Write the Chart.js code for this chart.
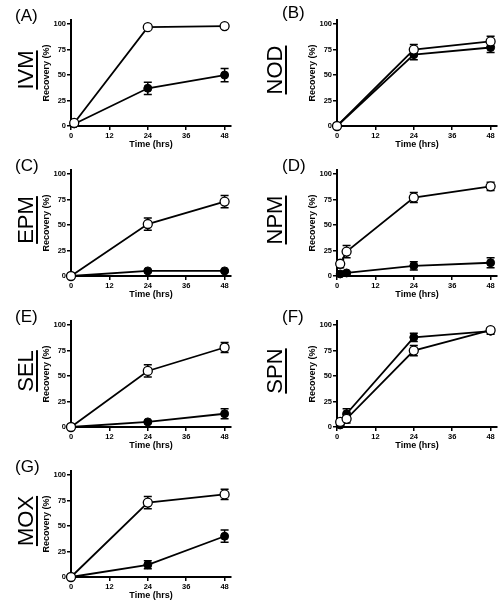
<!DOCTYPE html>
<html>
<head>
<meta charset="utf-8">
<script src="https://cdn.jsdelivr.net/npm/chart.js@4.4.1/dist/chart.umd.min.js"></script>
<style>
  body { margin: 0; background: #fff; }
  #wrap { position: relative; width: 503px; height: 609px; overflow: hidden; font-family: "Liberation Sans", Arial, sans-serif; }
  canvas { position: absolute; }
  .lbl { position: absolute; font-size: 17px; color: #000; line-height: 1; }
  .drug { position: absolute; font-size: 22px; color: #000; line-height: 1; text-decoration: underline; text-underline-offset: 3px; text-decoration-thickness: 1.5px; transform: translate(-50%, -50%) rotate(-90deg); white-space: nowrap; }
</style>
</head>
<body>
<div id="wrap"></div>
<script>
// tick labels
var xTicks = [0, 12, 24, 36, 48];
var yTicks = [0, 25, 50, 75, 100];

var panelLabels = ['(A)', '(B)', '(C)', '(D)', '(E)', '(F)', '(G)'];
var drugNames = ['IVM', 'NOD', 'EPM', 'NPM', 'SEL', 'SPN', 'MOX'];

// (A) IVM
var ivmTime = [1, 24, 48];
var ivmOpen = [3, 97, 98];
var ivmOpenErr = [1, 1, 1];
var ivmFilled = [2, 37, 50];
var ivmFilledErr = [0, 6, 6.5];

// (B) NOD
var nodTime = [0, 24, 48];
var nodOpen = [0, 75, 83];
var nodOpenErr = [0, 5, 5];
var nodFilled = [0, 70, 77];
var nodFilledErr = [0, 5, 5];

// (C) EPM
var epmTime = [0, 24, 48];
var epmOpen = [0, 51, 73];
var epmOpenErr = [0, 6, 6];
var epmFilled = [0, 5, 5];
var epmFilledErr = [0, 1, 1];

// (D) NPM
var npmTime = [1, 3, 24, 48];
var npmOpen = [12, 24, 77, 88];
var npmOpenErr = [4, 6, 5, 4];
var npmFilled = [2, 3, 10, 13];
var npmFilledErr = [1, 1, 4, 5];

// (E) SEL
var selTime = [0, 24, 48];
var selOpen = [0, 55, 78];
var selOpenErr = [0, 6, 5];
var selFilled = [0, 5, 13];
var selFilledErr = [0, 1, 5];

// (F) SPN
var spnTime = [1, 3, 24, 48];
var spnOpen = [5, 8, 75, 95];
var spnOpenErr = [2, 4, 5, 2];
var spnFilled = [2, 13, 88, 94];
var spnFilledErr = [1, 5, 4, 3];

// (G) MOX
var moxTime = [0, 24, 48];
var moxOpen = [0, 73, 81];
var moxOpenErr = [0, 6, 5];
var moxFilled = [0, 12, 40];
var moxFilledErr = [0, 4, 6];

var panels = [
    [ivmTime, ivmOpen, ivmOpenErr, ivmFilled, ivmFilledErr],
    [nodTime, nodOpen, nodOpenErr, nodFilled, nodFilledErr],
    [epmTime, epmOpen, epmOpenErr, epmFilled, epmFilledErr],
    [npmTime, npmOpen, npmOpenErr, npmFilled, npmFilledErr],
    [selTime, selOpen, selOpenErr, selFilled, selFilledErr],
    [spnTime, spnOpen, spnOpenErr, spnFilled, spnFilledErr],
    [moxTime, moxOpen, moxOpenErr, moxFilled, moxFilledErr]
];

var FONT = '"Liberation Sans", Arial, sans-serif';

// vertical error bars with caps, drawn under the lines and markers
var errorBars = {
    id: 'errorBars',
    beforeDatasetsDraw: function (chart) {
        var ctx = chart.ctx;
        var xs = chart.scales.x, ys = chart.scales.y;
        ctx.save();
        ctx.strokeStyle = '#000';
        ctx.lineWidth = 1.5;
        chart.data.datasets.forEach(function (ds) {
            ds.data.forEach(function (p, j) {
                var e = ds.errors[j];
                if (!e) return;
                var x = xs.getPixelForValue(p.x);
                var y1 = ys.getPixelForValue(p.y + e);
                var y2 = ys.getPixelForValue(p.y - e);
                ctx.beginPath();
                ctx.moveTo(x, y1); ctx.lineTo(x, y2);
                ctx.moveTo(x - 4, y1); ctx.lineTo(x + 4, y1);
                ctx.moveTo(x - 4, y2); ctx.lineTo(x + 4, y2);
                ctx.stroke();
            });
        });
        ctx.restore();
    }
};

function points(t, v) {
    var out = [];
    for (let i = 0; i < t.length; i++) {
        out.push({ x: t[i], y: v[i] });
    }
    return out;
}

var wrap = document.getElementById('wrap');
var rowTops = [0, 150, 301, 451];

function drawPanel(i) {
    var col = i % 2;
    var row = Math.floor(i / 2);
    var panelLeft = col == 0 ? 0 : 250;
    var w = col == 0 ? 250 : 253;
    var areaL = col == 0 ? 71 : 87;
    var areaR = col == 0 ? 231 : 247;
    var panelTop = rowTops[row];

    var cv = document.createElement('canvas');
    cv.width = w; cv.height = 150;
    cv.style.left = panelLeft + 'px'; cv.style.top = panelTop + 'px';
    cv.style.width = w + 'px'; cv.style.height = '150px';
    wrap.appendChild(cv);

    var lb = document.createElement('div');
    lb.className = 'lbl';
    lb.textContent = panelLabels[i];
    lb.style.left = (panelLeft + (col == 0 ? 15 : 32)) + 'px';
    lb.style.top = (panelTop + (row == 0 && col == 1 ? 4 : 7)) + 'px';
    wrap.appendChild(lb);

    var dn = document.createElement('div');
    dn.className = 'drug';
    dn.textContent = drugNames[i];
    dn.style.left = (panelLeft + (col == 0 ? 26 : 25)) + 'px';
    dn.style.top = (panelTop + 70) + 'px';
    wrap.appendChild(dn);

    var p = panels[i];
    new Chart(cv, {
        type: 'scatter',
        data: {
            datasets: [
                {
                    data: points(p[0], p[1]),
                    errors: p[2],
                    showLine: true,
                    borderColor: '#000',
                    borderWidth: 1.8,
                    pointRadius: 4.5,
                    pointBorderWidth: 1.3,
                    pointBackgroundColor: '#fff',
                    pointBorderColor: '#000',
                    clip: false,
                    order: 0
                },
                {
                    data: points(p[0], p[3]),
                    errors: p[4],
                    showLine: true,
                    borderColor: '#000',
                    borderWidth: 1.8,
                    pointRadius: 4,
                    pointBorderWidth: 1,
                    pointBackgroundColor: '#000',
                    pointBorderColor: '#000',
                    clip: false,
                    order: 1
                }
            ]
        },
        options: {
            responsive: false,
            animation: false,
            events: [],
            layout: { padding: { left: areaL - 30, right: w - areaR, top: 20, bottom: 0 } },
            plugins: { legend: { display: false }, tooltip: { enabled: false } },
            scales: {
                x: {
                    type: 'linear', min: 0, max: 50,
                    afterBuildTicks: function (s) { s.ticks = xTicks.map(function (v) { return { value: v }; }); },
                    afterFit: function (s) { s.height = 24; },
                    grid: { drawOnChartArea: false, color: '#000', lineWidth: 1.5, tickLength: 4 },
                    border: { color: '#000', width: 2 },
                    ticks: { color: '#000', padding: 1, maxRotation: 0, font: { family: FONT, size: 7.5, weight: 'bold' } },
                    title: { display: true, text: 'Time (hrs)', color: '#000', padding: 0, font: { family: FONT, size: 9, weight: 'bold' } }
                },
                y: {
                    type: 'linear', min: 0, max: 104,
                    afterBuildTicks: function (s) { s.ticks = yTicks.map(function (v) { return { value: v }; }); },
                    afterFit: function (s) { s.width = 30; },
                    grid: { drawOnChartArea: false, color: '#000', lineWidth: 1.5, tickLength: 4 },
                    border: { color: '#000', width: 2 },
                    ticks: { color: '#000', padding: 1, font: { family: FONT, size: 7.5, weight: 'bold' } },
                    title: { display: true, text: 'Recovery (%)', color: '#000', padding: 0, font: { family: FONT, size: 9, weight: 'bold' } }
                }
            }
        },
        plugins: [errorBars]
    });
}

for (let i = 0; i < panels.length; i++) {
    drawPanel(i);
}
</script>
</body>
</html>
